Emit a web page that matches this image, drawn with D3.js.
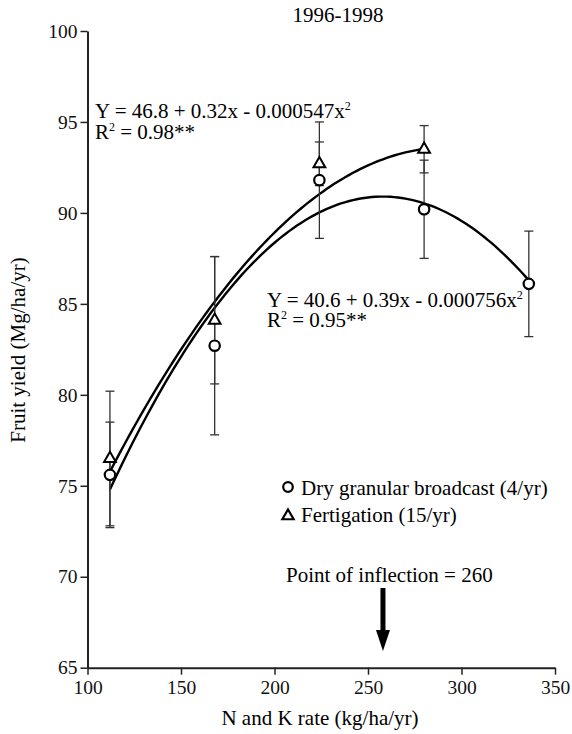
<!DOCTYPE html>
<html><head><meta charset="utf-8">
<script src="https://cdn.jsdelivr.net/npm/d3@7"></script>
</head><body style="margin:0;background:#fff"><svg id="c" width="572" height="734" style="display:block" font-family="Liberation Serif"></svg>
<script>
const rates = [112, 168, 224, 280, 336];
const dryMean = [75.6, 82.7, 91.8, 90.2, 86.1];
const dryErr = [2.9, 4.9, 3.2, 2.7, 2.9];
const fertRates = [112, 168, 224, 280];
const fertMean = [76.5, 84.1, 92.7, 93.5];
const fertErr = [3.7, 3.5, 1.2, 1.3];
const fertCoef = [46.8, 0.32, -0.000547];
const dryCoef = [40.6, 0.39, -0.000756];
const xTicks = [100, 150, 200, 250, 300, 350];
const yTicks = [65, 70, 75, 80, 85, 90, 95, 100];

const FONT = "Liberation Serif";
const FS = 21;
const svg = d3.select("#c");
const x = d3.scaleLinear().domain([100, 350]).range([87.5, 555]);
const y = d3.scaleLinear().domain([65, 100]).range([667.7, 31]);

const ax = svg.append("g").attr("transform", "translate(0,667.7)")
  .call(d3.axisBottom(x).tickValues(xTicks).tickSize(7).tickSizeOuter(0).tickPadding(5));
const ay = svg.append("g").attr("transform", "translate(87.5,0)")
  .call(d3.axisLeft(y).tickValues(yTicks).tickSize(7).tickSizeOuter(0).tickPadding(3));
[ax, ay].forEach(g => {
  g.attr("font-family", FONT).attr("font-size", 19.5);
  g.select(".domain").attr("stroke", "#222").attr("stroke-width", 2);
  g.selectAll(".tick line").attr("stroke", "#222").attr("stroke-width", 1.5);
  g.selectAll("text").attr("font-size", 19.5).attr("fill", "#111");
});

// fitted curves
const quad = (c, v) => c[0] + c[1] * v + c[2] * v * v;
function curve(c, x0, x1) {
  const pts = d3.range(x0, x1 + 0.01, 2).map(v => [x(v), y(quad(c, v))]);
  svg.append("path").attr("d", d3.line()(pts)).attr("fill", "none")
    .attr("stroke", "#000").attr("stroke-width", 2.4);
}
curve(fertCoef, 112, 280);
curve(dryCoef, 112, 336);

// error bars
function errs(xs, m, e) {
  const g = svg.append("g").attr("stroke", "#333").attr("stroke-width", 1.3);
  xs.forEach((r, i) => {
    const cx = x(r);
    g.append("line").attr("x1", cx).attr("x2", cx).attr("y1", y(m[i] - e[i])).attr("y2", y(m[i] + e[i]));
    [m[i] - e[i], m[i] + e[i]].forEach(v =>
      g.append("line").attr("x1", cx - 4.5).attr("x2", cx + 4.5).attr("y1", y(v)).attr("y2", y(v)));
  });
}
errs(rates, dryMean, dryErr);
errs(fertRates, fertMean, fertErr);

// markers
const tri = d3.symbol().type(d3.symbolTriangle).size(60);
svg.append("g").selectAll("path").data(fertRates).join("path")
  .attr("d", tri).attr("transform", (r, i) => `translate(${x(r)},${y(fertMean[i])})`)
  .attr("fill", "#fff").attr("stroke", "#000").attr("stroke-width", 2);
svg.append("g").selectAll("circle").data(rates).join("circle")
  .attr("cx", r => x(r)).attr("cy", (r, i) => y(dryMean[i])).attr("r", 5.2)
  .attr("fill", "#fff").attr("stroke", "#000").attr("stroke-width", 2.2);

// texts
function eq(x0, yb, gap, a, b, c, r2) {
  const t = svg.append("text").attr("x", x0).attr("y", yb).attr("font-size", FS);
  t.append("tspan").text(`Y = ${a} + ${b}x - ${c}x`);
  t.append("tspan").attr("font-size", 12).attr("dy", -8).text("2");
  const t2 = svg.append("text").attr("x", x0).attr("y", yb + gap).attr("font-size", FS);
  t2.append("tspan").text("R");
  t2.append("tspan").attr("font-size", 12).attr("dy", -8).text("2");
  t2.append("tspan").attr("dy", 8).text(` = ${r2}**`);
}
eq(95, 118, 21, "46.8", "0.32", "0.000547", "0.98");
eq(267, 307, 20, "40.6", "0.39", "0.000756", "0.95");

svg.append("text").attr("x", 338).attr("y", 22).attr("text-anchor", "middle").attr("font-size", FS).text("1996-1998");
svg.append("text").attr("x", 320).attr("y", 725).attr("text-anchor", "middle").attr("font-size", FS).text("N and K rate (kg/ha/yr)");
svg.append("text").attr("transform", "translate(25,350) rotate(-90)").attr("text-anchor", "middle").attr("font-size", FS).text("Fruit yield (Mg/ha/yr)");

// legend
svg.append("circle").attr("cx", 288).attr("cy", 487).attr("r", 4.8).attr("fill", "#fff").attr("stroke", "#000").attr("stroke-width", 2.2);
svg.append("path").attr("d", d3.symbol().type(d3.symbolTriangle).size(55)).attr("transform", "translate(288,516)")
  .attr("fill", "#fff").attr("stroke", "#000").attr("stroke-width", 2.2);
svg.append("text").attr("x", 301).attr("y", 495).attr("font-size", FS).text("Dry granular broadcast (4/yr)");
svg.append("text").attr("x", 301).attr("y", 522).attr("font-size", FS).text("Fertigation (15/yr)");

// point of inflection
svg.append("text").attr("x", 286).attr("y", 582).attr("font-size", FS).text("Point of inflection = 260");
const ix = x(258);
svg.append("line").attr("x1", ix).attr("x2", ix).attr("y1", 588).attr("y2", 632).attr("stroke", "#000").attr("stroke-width", 5);
svg.append("path").attr("d", `M${ix - 7},630 L${ix + 7},630 L${ix},651 Z`).attr("fill", "#000");

svg.selectAll("text").attr("font-family", FONT);
</script></body></html>
